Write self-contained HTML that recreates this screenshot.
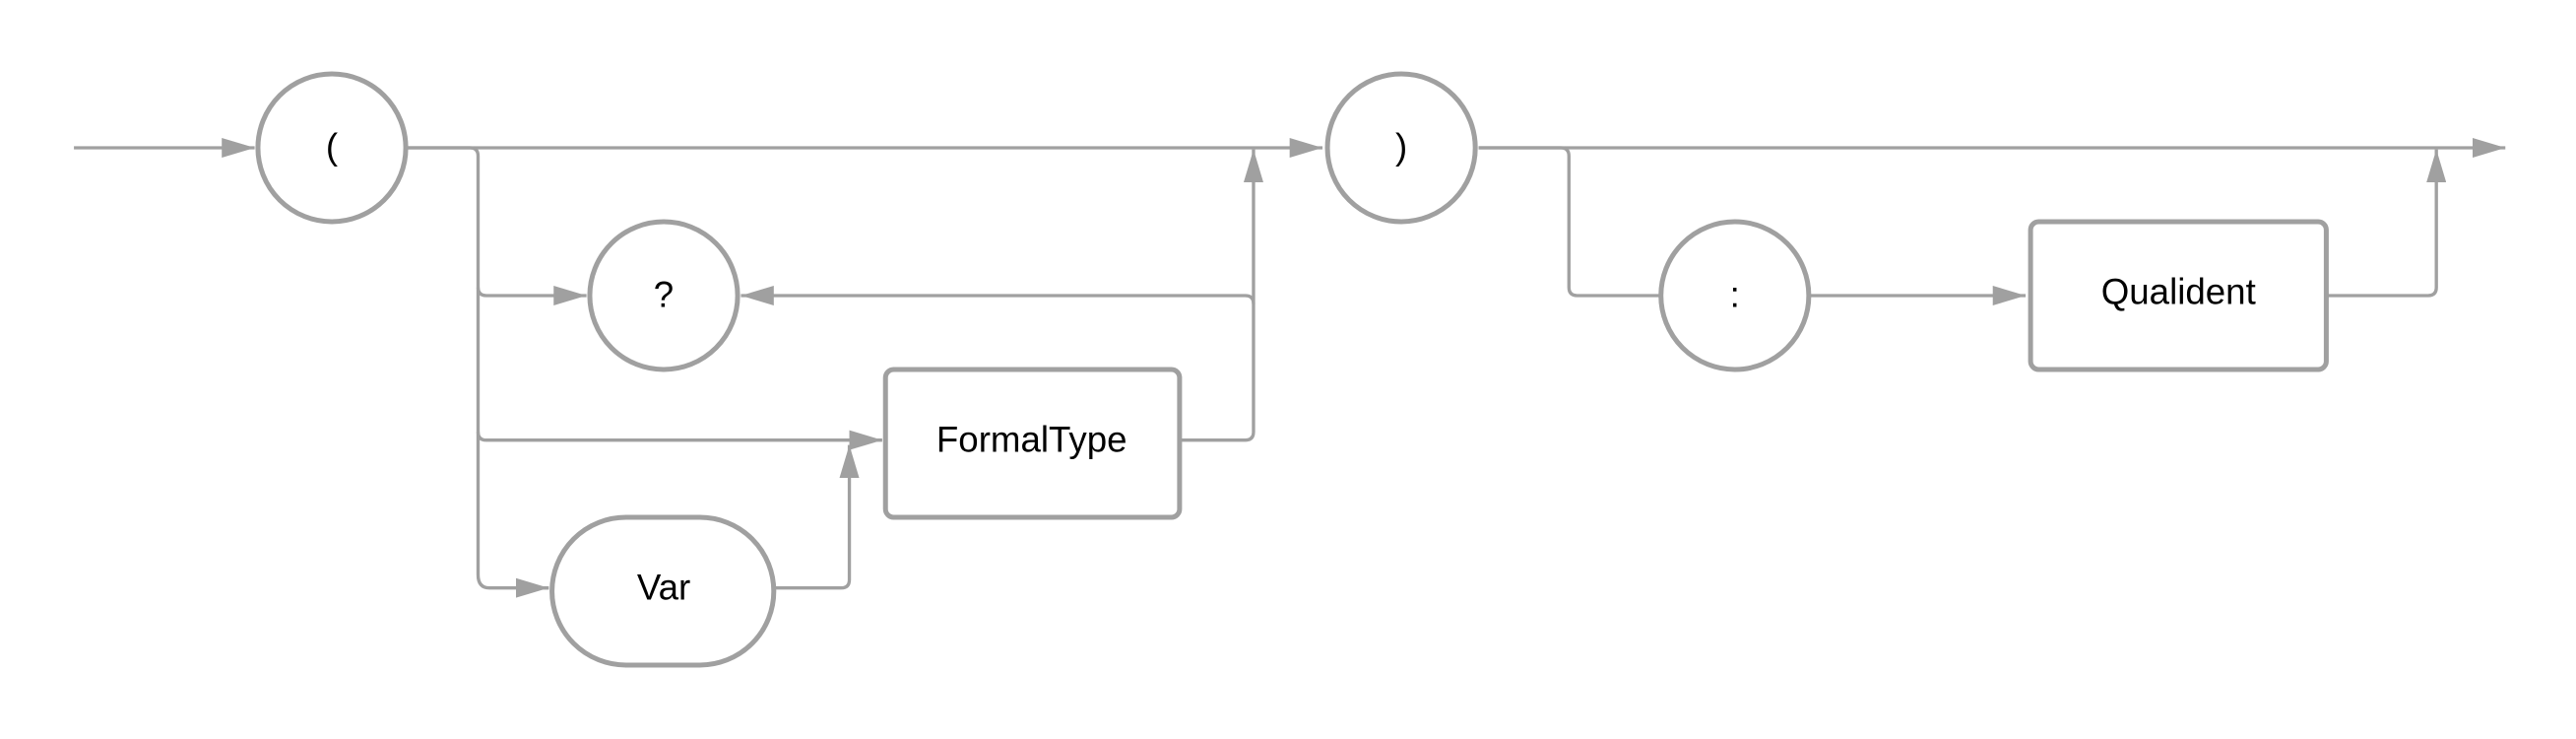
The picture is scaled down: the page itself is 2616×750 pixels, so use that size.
<!DOCTYPE html>
<html><head><meta charset="utf-8"><style>html,body{margin:0;padding:0;background:#fff;}svg{display:block}</style></head>
<body>
<svg width="2616" height="750" viewBox="0 0 1568 450" preserveAspectRatio="none" xmlns="http://www.w3.org/2000/svg">
<defs>
<marker id="a" viewBox="0 0 20 12" refX="20" refY="6" markerWidth="20" markerHeight="12" markerUnits="userSpaceOnUse" orient="auto">
<path d="M0,0 L20,6 L0,12 Z" fill="#a0a0a0"/></marker>
</defs>
<g fill="none" stroke="#a0a0a0" stroke-width="2">
<path d="M45,90 H155" marker-end="url(#a)"/>
<path d="M247,90 H805" marker-end="url(#a)"/>
<path d="M247,90 H286 Q291,90 291,95 V350 Q291,358 298,358 H334" />
<path d="M315,358 H334" marker-end="url(#a)"/>
<path d="M291,175 Q291,180 296,180 H357" marker-end="url(#a)"/>
<path d="M291,263 Q291,268 296,268 H537" marker-end="url(#a)"/>
<path d="M471,358 H512 Q517,358 517,353 V271" marker-end="url(#a)"/>
<path d="M718,268 H758 Q763,268 763,263 V91" marker-end="url(#a)"/>
<path d="M763,185 Q763,180 758,180 H451" marker-end="url(#a)"/>
<path d="M900,90 H1525" marker-end="url(#a)"/>
<path d="M900,90 H950 Q955,90 955,95 V175 Q955,180 960,180 H1010"/>
<path d="M1102,180 H1233" marker-end="url(#a)"/>
<path d="M1416,180 H1478 Q1483,180 1483,175 V91" marker-end="url(#a)"/>
</g>
<g fill="#fff" stroke="#a0a0a0" stroke-width="3">
<circle cx="202" cy="90" r="45"/>
<circle cx="853" cy="90" r="45"/>
<circle cx="404" cy="180" r="45"/>
<circle cx="1056" cy="180" r="45"/>
<rect x="539" y="225" width="179" height="90" rx="5"/>
<rect x="1236" y="135" width="180" height="90" rx="5"/>
<rect x="336" y="315" width="135" height="90" rx="45"/>
</g>
<g font-family="Liberation Sans, sans-serif" font-size="22" fill="#000" text-anchor="middle">
<text x="202" y="97">(</text>
<text x="853" y="97">)</text>
<text x="404" y="187">?</text>
<text x="1056" y="187">:</text>
<text x="628" y="275">FormalType</text>
<text x="1326" y="185">Qualident</text>
<text x="404" y="365">Var</text>
</g>
</svg>
</body></html>
